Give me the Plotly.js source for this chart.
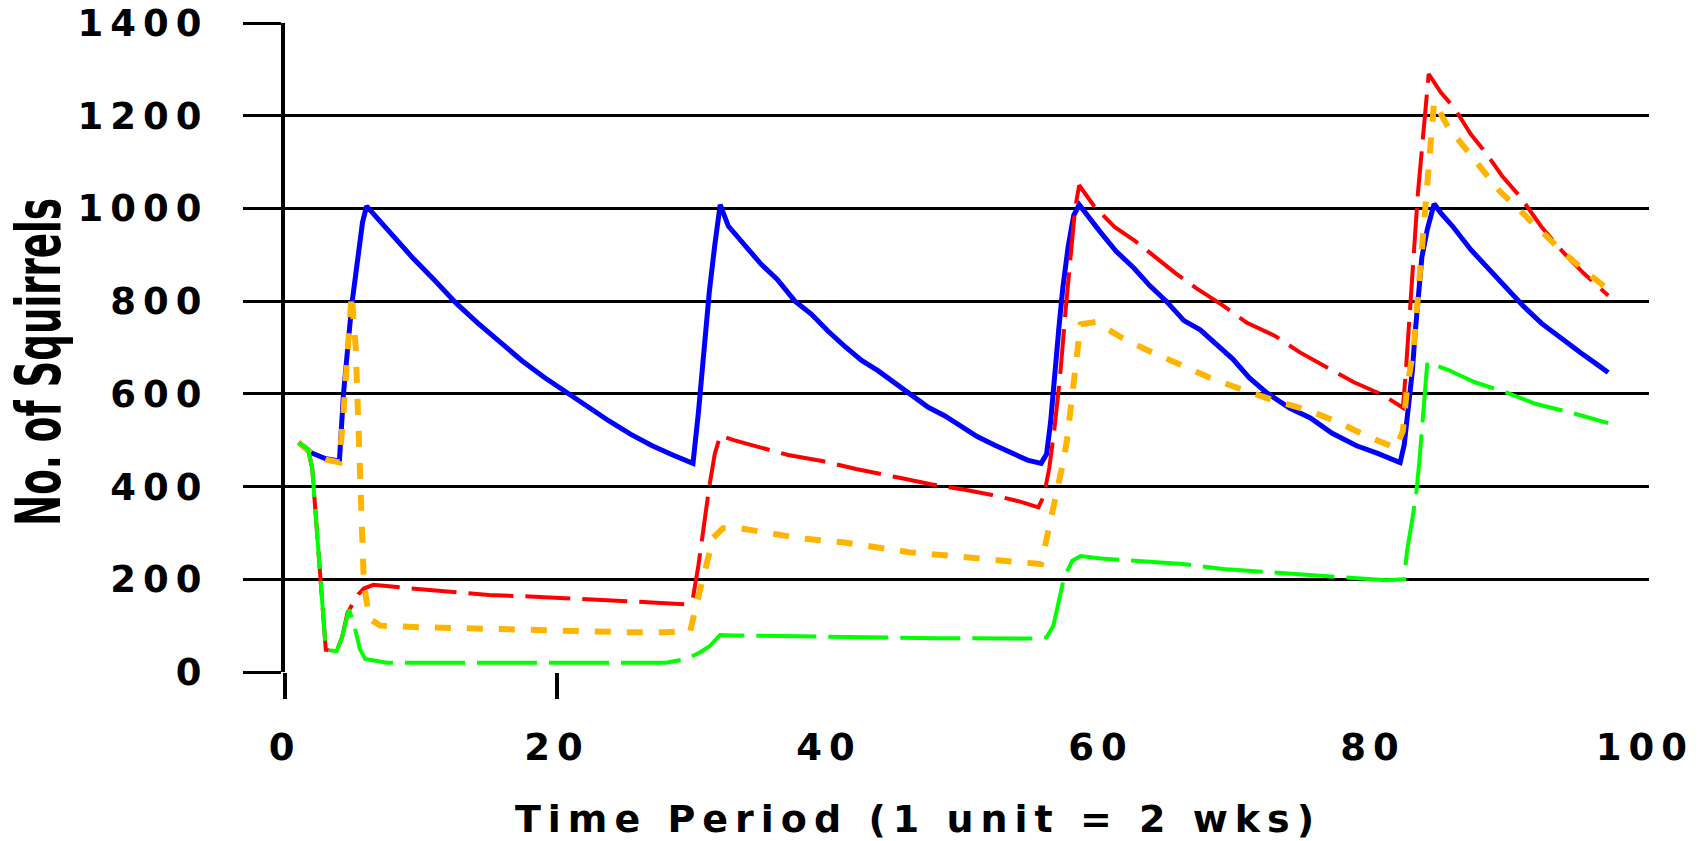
<!DOCTYPE html>
<html>
<head>
<meta charset="utf-8">
<script src="https://cdn.plot.ly/plotly-3.0.1.min.js"></script>
<style>
  html, body { margin: 0; padding: 0; background: #ffffff; }
  #chart { width: 1701px; height: 841px; }
  .xtick text, .ytick text { letter-spacing: 7px; }
  .g-xtitle text { letter-spacing: 7px; }
</style>
</head>
<body>
<div id="chart"></div>
<script>
// ---- data ----
const xTickVals = [0, 20, 40, 60, 80, 100];
const xTickText = ["0", "20", "40", "60", "80", "100"];
const xMarkVals = [0, 20];
const yTickVals = [0, 200, 400, 600, 800, 1000, 1200, 1400];
const yTickText = ["0", "200", "400", "600", "800", "1000", "1200", "1400"];

const blueX = [1,2,3,4,4.3,4.6,4.9,5.3,5.7,6, 7.8,9.4,11,12.6,14.2,15.8,17.4,19,20.6,22.2,23.8,25.4,27,28.6,30,
  30.4,30.8,31.2,31.6,32,
  32.6,33.8,35,36.2,37.5,38.7,39.9,41.1,42.4,43.6,44.8,46,47.3,48.5,49.7,50.9,52.2,53.4,54.6,55.6,
  56,56.3,56.6,56.9,57.2,57.6,58,58.4,
  59.9,61.1,62.4,63.6,64.8,66.1,67.3,68.5,69.7,70.9,72.2,73.9,75.4,77,78.8,80.3,82,
  82.3,82.6,82.9,83.1,83.4,83.6,84,84.5,
  85,85.9,87.2,88.5,89.5,91,92.4,93.8,95.3,96.5,97.3];
const blueY = [495,472,460,455,600,690,790,880,970,1005, 945,893,845,795,752,712,672,637,605,572,542,513,488,467,450,
  560,700,820,920,1008,
  962,919,880,847,800,772,736,704,672,650,624,600,571,553,530,508,489,474,457,450,
  470,540,650,740,830,920,985,1008,
  951,908,872,833,800,758,738,705,675,635,602,569,548,515,488,472,452,
  490,560,650,730,820,895,955,1010,
  990,960,911,870,835,791,752,720,688,663,646];

const redX = [1,1.7,2,2.3,2.6,2.9,3,3.8,4.2,4.6,5,5.4,5.8,6.5,9,12,15,18,21,24,27,29.6,
  30,30.4,30.8,31.2,31.6,32,
  33,35,37,39.5,42,45,47.5,50,52,54,55.4,
  55.8,56.2,56.6,57,57.4,57.8,58.1,58.4,
  59.5,61,62.5,64,65.5,67,68.9,70.7,72.8,74.6,76.5,78.6,80.7,82.2,
  82.4,82.7,83,83.3,83.7,84.1,
  85,86,87.2,88.3,89.5,90.8,92.4,94,95.5,97.3];
const redY = [495,480,440,330,220,100,48,45,75,128,150,168,180,188,181,173,166,163,158,153,150,146,
  160,230,320,400,470,510,
  500,485,468,455,438,420,405,393,382,368,355,
  380,440,530,640,780,900,1000,1050,
  1005,960,930,895,860,828,792,754,725,690,660,625,598,570,
  640,760,900,1030,1150,1290,
  1250,1216,1160,1120,1070,1026,960,905,860,812];

const orangeX = [1,2,3,4,4.3,4.6,4.9,5.2,5.5,5.8,6.2,7,9.5,12,15,18,21,25,28,29.8,
  30.2,30.6,31,31.5,32.2,
  33.5,35.5,38,41,43.5,46,48.5,51,53.5,55.6,
  56,56.4,56.8,57.2,57.5,57.7,57.9,58.1,58.3,58.5,
  59.6,61.6,63.5,65.7,68,70.3,72.8,75.2,77.5,79.6,81.7,
  82.2,82.5,83,83.3,83.6,83.9,84.2,84.5,
  85.5,86.8,88,89.3,90.9,92.4,94,95.6,97.3];
const orangeY = [495,470,458,452,560,680,815,700,450,190,115,100,97,95,92,90,88,86,86,88,
  140,190,240,290,310,
  310,300,288,280,268,258,252,244,238,233,
  285,340,395,450,500,550,600,650,700,750,
  755,720,693,665,635,610,585,565,538,508,483,
  520,610,700,810,925,1030,1130,1230,
  1177,1130,1084,1038,993,950,905,865,825];

const greenX = [1,1.7,2,2.3,2.6,2.9,3,3.8,4.2,4.7,5.1,5.5,5.9,7.5,12,20,28,29.5,30.5,31.2,32,
  33,40,48,55.5,
  56,56.5,56.9,57.3,57.9,58.5,
  60,63,66,69,72,75,78,81,82.3,
  82.5,82.9,83.2,83.4,83.7,84,
  85.5,87.5,89.7,92,94.5,97.3];
const greenY = [495,480,440,330,220,100,48,45,75,135,100,50,28,20,20,19,20,28,42,55,80,
  79,76,73,72,
  75,100,150,205,240,250,
  245,238,233,222,216,210,205,198,200,
  260,330,390,450,560,668,
  652,625,604,578,560,537];

const titleX = "Time Period (1 unit = 2 wks)";
const titleY = "No. of Squirrels";

// ---- chart ----
const FONT = "DejaVu Sans";
const traces = [
  { x: blueX, y: blueY, mode: "lines", line: { color: "#0000ff", width: 5 }, hoverinfo: "skip" },
  { x: redX, y: redY, mode: "lines", line: { color: "#ff0000", width: 4, dash: "45px,12px" }, hoverinfo: "skip" },
  { x: orangeX, y: orangeY, mode: "lines", line: { color: "#ffb400", width: 6, dash: "16px,16px" }, hoverinfo: "skip" },
  { x: greenX, y: greenY, mode: "lines", line: { color: "#00ff00", width: 4, dash: "60px,12px" }, hoverinfo: "skip" },
  { x: [], y: [], xaxis: "x2", yaxis: "y", mode: "lines", hoverinfo: "skip" }
];

const layout = {
  width: 1701, height: 841,
  margin: { l: 285, r: 52, t: 23, b: 169, pad: 0 },
  paper_bgcolor: "#ffffff", plot_bgcolor: "#ffffff",
  showlegend: false,
  font: { family: FONT, color: "#000000", weight: "bold" },
  xaxis: {
    range: [0, 100.3], tickmode: "array", tickvals: xTickVals, ticktext: xTickText,
    ticks: "", showgrid: false, zeroline: false, showline: false,
    tickfont: { family: FONT, size: 37, color: "#000000", weight: "bold" },
    ticklabelstandoff: 50, automargin: false, fixedrange: true,
    title: { text: titleX, font: { family: FONT, size: 38, color: "#000000", weight: "bold" }, standoff: 40 }
  },
  xaxis2: {
    overlaying: "x", anchor: "y", side: "bottom", range: [0, 100.3],
    tickmode: "array", tickvals: xMarkVals, ticks: "outside", ticklen: 26, tickwidth: 4, tickcolor: "#000000",
    showticklabels: false, showgrid: false, zeroline: false, showline: false, fixedrange: true
  },
  yaxis: {
    range: [0, 1400], tickmode: "array", tickvals: yTickVals, ticktext: yTickText,
    ticks: "outside", ticklen: 38, tickwidth: 3, tickcolor: "#000000",
    showgrid: true, gridcolor: "#000000", gridwidth: 3,
    zeroline: false, showline: true, linecolor: "#000000", linewidth: 4,
    tickfont: { family: FONT, size: 37, color: "#000000", weight: "bold" },
    ticklabelstandoff: 27, automargin: false, fixedrange: true,
    title: { text: titleY, font: { family: FONT, size: 62, color: "#000000", weight: "bold" } }
  }
};

Plotly.newPlot("chart", traces, layout, { staticPlot: true, displayModeBar: false }).then(function (gd) {
  const yt = gd.querySelector(".g-ytitle text");
  if (yt) {
    const cx = 60, cy = 362, s = 0.6;
    let p = yt.parentNode;
    while (p && p !== gd && p.tagName && p.tagName.toLowerCase() !== "svg") {
      if (p.classList && p.classList.contains("g-ytitle")) { p.removeAttribute("transform"); break; }
      p = p.parentNode;
    }
    yt.querySelectorAll("tspan").forEach(function (t) { t.removeAttribute("x"); t.removeAttribute("dy"); });
    yt.removeAttribute("dy");
    yt.setAttribute("x", cx);
    yt.setAttribute("y", cy);
    yt.setAttribute("text-anchor", "middle");
    yt.setAttribute("transform",
      "translate(0," + cy + ") scale(1," + s + ") translate(0," + (-cy) + ") rotate(-90," + cx + "," + cy + ")");
  }
  const xt = gd.querySelector(".g-xtitle text");
  if (xt) {
    xt.setAttribute("x", 918);
    xt.setAttribute("y", 835);
    xt.setAttribute("text-anchor", "middle");
  }
});
</script>
</body>
</html>
